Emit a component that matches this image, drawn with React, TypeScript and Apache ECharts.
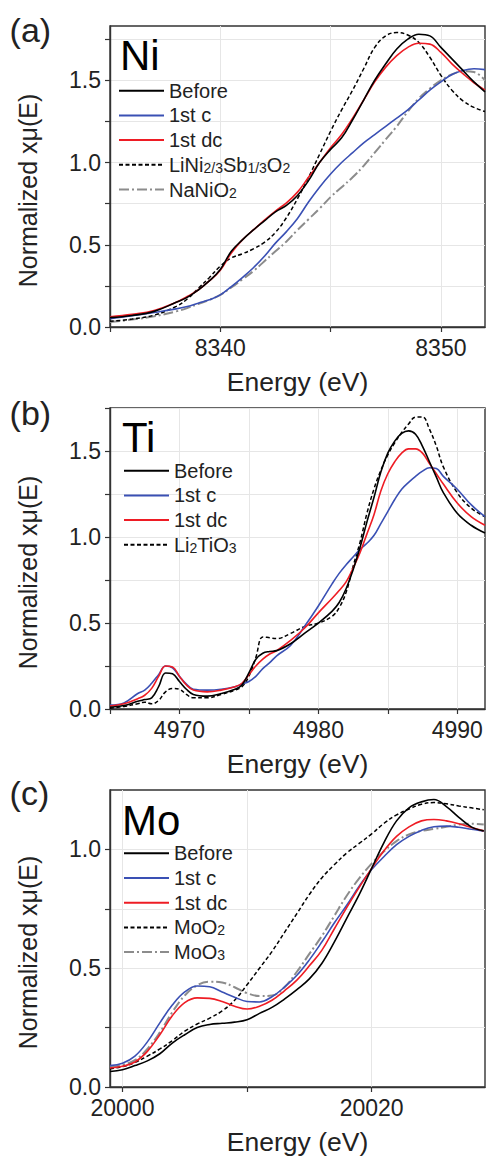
import React, { useEffect, useRef } from "react";
import * as echarts from "echarts";

// ---------- Panel (a): Ni K-edge ----------
const niEnergy = [8335, 8336, 8337, 8338, 8338.5, 8339, 8339.5, 8340, 8340.5, 8341, 8341.5, 8342, 8342.5, 8343, 8343.5, 8344, 8344.5, 8345, 8345.5, 8346, 8346.5, 8347, 8347.5, 8348, 8348.5, 8349, 8349.5, 8350, 8350.5, 8351, 8351.5, 8352];
const niBefore = [0.057, 0.07, 0.095, 0.15, 0.18, 0.225, 0.28, 0.35, 0.46, 0.53, 0.59, 0.645, 0.7, 0.74, 0.8, 0.89, 1.0, 1.08, 1.15, 1.26, 1.38, 1.5, 1.6, 1.69, 1.75, 1.78, 1.77, 1.7, 1.63, 1.56, 1.49, 1.43];
const niCharge = [0.05, 0.068, 0.088, 0.11, 0.125, 0.145, 0.165, 0.195, 0.245, 0.3, 0.36, 0.43, 0.51, 0.58, 0.66, 0.76, 0.85, 0.93, 1.0, 1.06, 1.12, 1.17, 1.22, 1.27, 1.32, 1.38, 1.44, 1.49, 1.535, 1.56, 1.57, 1.565];
const niDischarge = [0.062, 0.077, 0.1, 0.15, 0.185, 0.225, 0.28, 0.345, 0.45, 0.53, 0.59, 0.65, 0.705, 0.755, 0.82, 0.91, 1.0, 1.09, 1.17, 1.27, 1.38, 1.49, 1.58, 1.65, 1.7, 1.725, 1.72, 1.67, 1.6, 1.54, 1.485, 1.44];
const niRefLiNiSb = [0.035, 0.048, 0.072, 0.125, 0.17, 0.235, 0.3, 0.37, 0.42, 0.445, 0.475, 0.515, 0.575, 0.665, 0.78, 0.91, 1.05, 1.19, 1.32, 1.44, 1.57, 1.7, 1.77, 1.79, 1.775, 1.73, 1.64, 1.53, 1.44, 1.375, 1.335, 1.31];
const niRefNaNiO2 = [0.03, 0.045, 0.065, 0.095, 0.115, 0.14, 0.165, 0.195, 0.24, 0.29, 0.34, 0.4, 0.46, 0.52, 0.59, 0.655, 0.72, 0.79, 0.85, 0.91, 0.98, 1.06, 1.14, 1.22, 1.31, 1.39, 1.45, 1.5, 1.535, 1.555, 1.55, 1.5];

// ---------- Panel (b): Ti K-edge ----------
const tiEnergy = [4965, 4966, 4967, 4967.5, 4968, 4968.5, 4969, 4969.5, 4970, 4970.5, 4971, 4972, 4973, 4974, 4974.5, 4975, 4975.5, 4976, 4976.5, 4977, 4978, 4979, 4980, 4981, 4981.5, 4982, 4982.5, 4983, 4983.5, 4984, 4984.5, 4985, 4985.5, 4986, 4986.5, 4987, 4987.5, 4988, 4988.5, 4989, 4990, 4991, 4992];
const tiBefore = [0.01, 0.02, 0.045, 0.055, 0.065, 0.13, 0.21, 0.205, 0.16, 0.115, 0.085, 0.075, 0.09, 0.115, 0.14, 0.21, 0.29, 0.325, 0.335, 0.34, 0.38, 0.44, 0.5, 0.57, 0.62, 0.7, 0.81, 0.94, 1.09, 1.23, 1.38, 1.49, 1.56, 1.605, 1.62, 1.6, 1.53, 1.44, 1.35, 1.26, 1.14, 1.07, 1.025];
const tiCharge = [0.023, 0.035, 0.09, 0.11, 0.15, 0.2, 0.25, 0.24, 0.19, 0.145, 0.115, 0.11, 0.115, 0.13, 0.145, 0.16, 0.19, 0.235, 0.27, 0.31, 0.37, 0.48, 0.6, 0.73, 0.79, 0.84, 0.885, 0.93, 0.965, 1.01, 1.08, 1.15, 1.22, 1.28, 1.32, 1.355, 1.385, 1.405, 1.4, 1.355, 1.28, 1.19, 1.12];
const tiDischarge = [0.017, 0.03, 0.06, 0.08, 0.12, 0.19, 0.25, 0.245, 0.19, 0.14, 0.11, 0.1, 0.11, 0.13, 0.15, 0.2, 0.25, 0.29, 0.32, 0.34, 0.4, 0.47, 0.56, 0.645, 0.69, 0.74, 0.82, 0.91, 1.02, 1.13, 1.27, 1.37, 1.44, 1.49, 1.515, 1.515, 1.49, 1.43, 1.37, 1.31, 1.2, 1.12, 1.07];
const tiRefLi2TiO3 = [0.005, 0.015, 0.03, 0.04, 0.03, 0.05, 0.1, 0.12, 0.115, 0.085, 0.065, 0.065, 0.085, 0.11, 0.13, 0.19, 0.3, 0.42, 0.415, 0.41, 0.44, 0.48, 0.5, 0.54, 0.59, 0.68, 0.83, 0.97, 1.14, 1.28, 1.39, 1.48, 1.55, 1.61, 1.66, 1.7, 1.7, 1.63, 1.53, 1.41, 1.26, 1.17, 1.12];

// ---------- Panel (c): Mo K-edge ----------
const moEnergy = [19999, 20000, 20001, 20002, 20003, 20004, 20005, 20006, 20007, 20008, 20009, 20010, 20011, 20012, 20013, 20014, 20015, 20016, 20017, 20018, 20019, 20020, 20021, 20022, 20023, 20024, 20025, 20026, 20027, 20028, 20029];
const moBefore = [0.065, 0.073, 0.09, 0.11, 0.14, 0.185, 0.22, 0.25, 0.263, 0.268, 0.273, 0.283, 0.31, 0.335, 0.37, 0.41, 0.455, 0.52, 0.61, 0.71, 0.81, 0.92, 1.03, 1.12, 1.175, 1.2, 1.21, 1.18, 1.135, 1.095, 1.078];
const moCharge = [0.09, 0.1, 0.13, 0.19, 0.27, 0.345, 0.4, 0.425, 0.422, 0.4, 0.378, 0.36, 0.358, 0.38, 0.42, 0.47, 0.535, 0.61, 0.69, 0.765, 0.845, 0.915, 0.97, 1.02, 1.055, 1.08, 1.095, 1.098, 1.093, 1.085, 1.077];
const moDischarge = [0.08, 0.087, 0.105, 0.15, 0.22, 0.3, 0.355, 0.375, 0.373, 0.36, 0.34, 0.328, 0.34, 0.365, 0.405, 0.45, 0.51, 0.575, 0.665, 0.755, 0.84, 0.92, 0.995, 1.055, 1.095, 1.12, 1.126, 1.12, 1.108, 1.092, 1.078];
const moRefMoO2 = [0.076, 0.086, 0.103, 0.13, 0.16, 0.195, 0.235, 0.265, 0.29, 0.32, 0.365, 0.43, 0.5, 0.57, 0.65, 0.73, 0.81, 0.88, 0.935, 0.985, 1.025, 1.065, 1.11, 1.145, 1.17, 1.19, 1.197, 1.192, 1.183, 1.175, 1.167];
const moRefMoO3 = [0.083, 0.093, 0.113, 0.16, 0.23, 0.315, 0.385, 0.428, 0.443, 0.44, 0.42, 0.395, 0.383, 0.385, 0.42, 0.485, 0.56, 0.635, 0.72, 0.805, 0.878, 0.94, 0.992, 1.035, 1.063, 1.078, 1.086, 1.095, 1.105, 1.108, 1.105];

// ---------- Axes ----------
const niXTicks = [8335, 8340, 8345, 8350];
const niXLabels = [8340, 8350];
const tiXTicks = [4965, 4970, 4975, 4980, 4985, 4990];
const tiXLabels = [4970, 4980, 4990];
const moXTicks = [20000, 20010, 20020];
const moXLabels = [20000, 20020];
const niYTicks = [0, 0.25, 0.5, 0.75, 1.0, 1.25, 1.5, 1.75];
const tiYTicks = [0, 0.25, 0.5, 0.75, 1.0, 1.25, 1.5, 1.75];
const moYTicks = [0, 0.25, 0.5, 0.75, 1.0];
const niYLabels = [0, 0.5, 1.0, 1.5];
const tiYLabels = [0, 0.5, 1.0, 1.5];
const moYLabels = [0, 0.5, 1.0];

const panelLetters = ["(a)", "(b)", "(c)"];
const elements = ["Ni", "Ti", "Mo"];
const legendNi = ["Before", "1st c", "1st dc", "LiNi2/3Sb1/3O2", "NaNiO2"];
const legendTi = ["Before", "1st c", "1st dc", "Li2TiO3"];
const legendMo = ["Before", "1st c", "1st dc", "MoO2", "MoO3"];

const FONT = '"Liberation Sans", Arial, Helvetica, sans-serif';
const TEXT = "#222222";
const AXIS = "#333333";

const richNames: Record<string, string> = {
  "LiNi2/3Sb1/3O2": "{n|LiNi}{s|2/3}{n|Sb}{s|1/3}{n|O}{s|2}",
  NaNiO2: "{n|NaNiO}{s|2}",
  Li2TiO3: "{n|Li}{s|2}{n|TiO}{s|3}",
  MoO2: "{n|MoO}{s|2}",
  MoO3: "{n|MoO}{s|3}",
};

const styleOf = (kind: string) => {
  switch (kind) {
    case "before": return { color: "#000000", width: 1.6, type: "solid" as any };
    case "charge": return { color: "#3a50b4", width: 1.6, type: "solid" as any };
    case "discharge": return { color: "#ee1c24", width: 1.6, type: "solid" as any };
    case "dot": return { color: "#000000", width: 1.5, type: [4, 2.5] as any };
    default: return { color: "#8c8c8c", width: 2, type: [10, 3, 2, 3] as any };
  }
};

const pair = (xs: number[], ys: number[]) => xs.map((x, i) => [x, ys[i]]);

export default function App() {
  const ref = useRef<HTMLDivElement>(null);
  useEffect(() => {
    if (!ref.current) return;
    const chart = echarts.init(ref.current, undefined, { renderer: "svg" });

    const grids = [
      { left: 110, top: 26, width: 375, height: 301 },
      { left: 110, top: 408, width: 375, height: 301 },
      { left: 110, top: 790, width: 375, height: 302 },
    ];
    const xRanges = [[8335, 8352], [4965, 4992], [19999, 20029.1]];
    const yMax = [1.83, 1.753, 1.25];
    const xTicks = [niXTicks, tiXTicks, moXTicks];
    const xLabels = [niXLabels, tiXLabels, moXLabels];
    const yTicks = [niYTicks, tiYTicks, moYTicks];
    const yLabels = [niYLabels, tiYLabels, moYLabels];

    const axisCommon = {
      axisLine: { show: true, onZero: false, lineStyle: { color: AXIS, width: 1.4 } },
      axisTick: { show: true, inside: false, length: 5, lineStyle: { color: AXIS, width: 1.2 } },
      splitLine: { show: true, lineStyle: { color: "#e6e6e6", width: 1 } },
    };

    const xAxis = grids.map((_, i) => ({
      type: "value",
      gridIndex: i,
      min: xRanges[i][0],
      max: xRanges[i][1],
      name: "Energy (eV)",
      nameLocation: "middle",
      nameGap: 41,
      nameTextStyle: { fontFamily: FONT, fontSize: 26.5, color: TEXT },
      ...axisCommon,
      axisTick: { ...axisCommon.axisTick, customValues: xTicks[i] },
      axisLabel: {
        customValues: xLabels[i],
        margin: 9,
        fontFamily: FONT,
        fontSize: 23,
        color: TEXT,
        formatter: (v: number) => String(v),
      },
    }));

    const yAxis = grids.map((_, i) => ({
      type: "value",
      gridIndex: i,
      min: 0,
      max: yMax[i],
      name: "Normalized xμ(E)",
      nameLocation: "middle",
      nameGap: 70,
      nameTextStyle: { fontFamily: FONT, fontSize: 25, color: TEXT, padding: [0, 28, 0, 0] },
      ...axisCommon,
      axisTick: { ...axisCommon.axisTick, customValues: yTicks[i] },
      axisLabel: {
        customValues: yLabels[i],
        margin: 9,
        fontFamily: FONT,
        fontSize: 23,
        color: TEXT,
        formatter: (v: number) => v.toFixed(1),
      },
    }));

    const mk = (name: string, kind: string, gi: number, xs: number[], ys: number[], z: number) => ({
      type: "line",
      name,
      xAxisIndex: gi,
      yAxisIndex: gi,
      data: pair(xs, ys),
      smooth: 0.4,
      symbol: "none",
      showSymbol: false,
      z,
      lineStyle: styleOf(kind),
      itemStyle: { color: styleOf(kind).color },
      emphasis: { disabled: true },
    });

    const series = [
      mk("NaNiO2", "dashdot", 0, niEnergy, niRefNaNiO2, 2),
      mk("LiNi2/3Sb1/3O2", "dot", 0, niEnergy, niRefLiNiSb, 3),
      mk("1st c", "charge", 0, niEnergy, niCharge, 4),
      mk("1st dc", "discharge", 0, niEnergy, niDischarge, 5),
      mk("Before", "before", 0, niEnergy, niBefore, 6),
      mk("Li2TiO3", "dot", 1, tiEnergy, tiRefLi2TiO3, 3),
      mk("1st c", "charge", 1, tiEnergy, tiCharge, 4),
      mk("1st dc", "discharge", 1, tiEnergy, tiDischarge, 5),
      mk("Before", "before", 1, tiEnergy, tiBefore, 6),
      mk("MoO3", "dashdot", 2, moEnergy, moRefMoO3, 2),
      mk("MoO2", "dot", 2, moEnergy, moRefMoO2, 3),
      mk("1st c", "charge", 2, moEnergy, moCharge, 4),
      mk("1st dc", "discharge", 2, moEnergy, moDischarge, 5),
      mk("Before", "before", 2, moEnergy, moBefore, 6),
    ];

    const legendBase = {
      orient: "vertical",
      padding: 0,
      itemGap: 4.7,
      itemWidth: 45,
      itemHeight: 14,
      selectedMode: false,
      itemStyle: { opacity: 0, borderWidth: 0 },
      textStyle: {
        fontFamily: FONT,
        fontSize: 20,
        color: TEXT,
        rich: {
          n: { fontFamily: FONT, fontSize: 20, color: TEXT, verticalAlign: "bottom" },
          s: { fontFamily: FONT, fontSize: 14, color: TEXT, verticalAlign: "bottom" },
        },
      },
      formatter: (name: string) => richNames[name] ?? name,
    };

    const legend = [
      { ...legendBase, left: 118, top: 80.7, data: legendNi },
      { ...legendBase, left: 123, top: 460.7, data: legendTi },
      { ...legendBase, left: 123, top: 843.3, data: legendMo },
    ];

    const letterY = [29.5, 413, 793];
    const elemY = [55, 437, 820];
    const elemX = [120, 122, 122];
    const graphic: any[] = [];
    panelLetters.forEach((t, i) => {
      graphic.push({
        type: "text",
        x: 9.6,
        y: letterY[i],
        z: 10,
        style: { text: t, font: `34px ${FONT}`, fill: TEXT, textVerticalAlign: "middle", textAlign: "left" },
      });
    });
    elements.forEach((t, i) => {
      graphic.push({
        type: "text",
        x: elemX[i],
        y: elemY[i],
        z: 10,
        style: { text: t, font: `42px ${FONT}`, fill: "#000000", textVerticalAlign: "middle", textAlign: "left" },
      });
    });

    chart.setOption({
      animation: false,
      backgroundColor: "#ffffff",
      grid: grids.map((g) => ({ ...g, show: true, borderColor: AXIS, borderWidth: 1.4, backgroundColor: "transparent" })),
      xAxis,
      yAxis,
      legend,
      series,
      graphic,
    } as any);

    return () => chart.dispose();
  }, []);

  return (
    <div
      ref={ref}
      style={{ position: "absolute", left: 0, top: 0, width: 486, height: 1156, background: "#fff" }}
    />
  );
}
